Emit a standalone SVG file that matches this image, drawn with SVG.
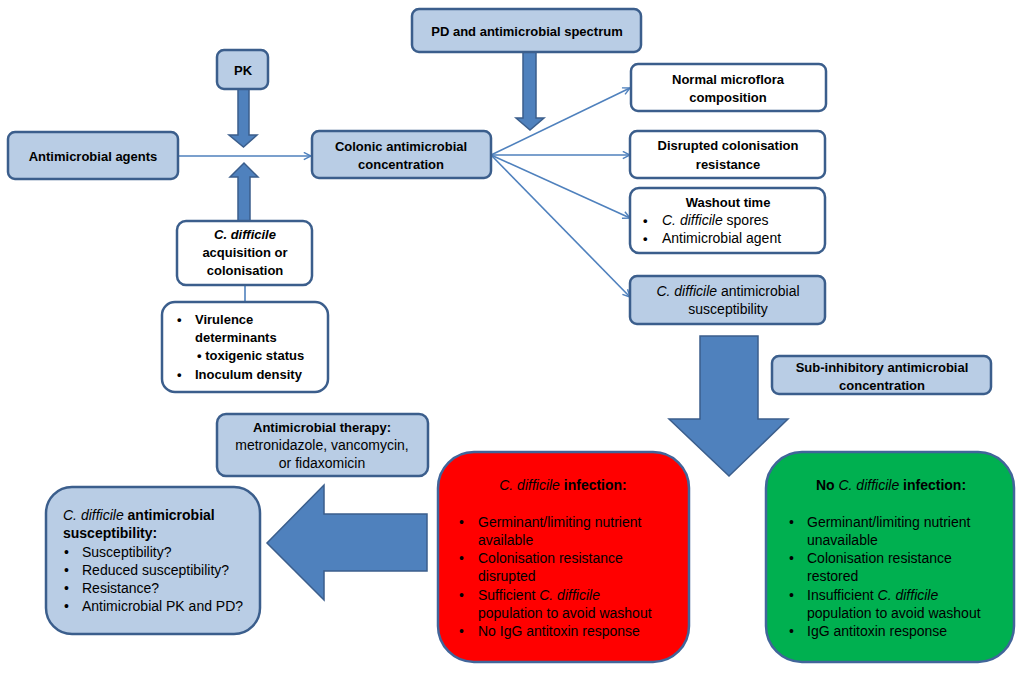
<svg xmlns="http://www.w3.org/2000/svg" width="1024" height="673" viewBox="0 0 1024 673">
<defs>
<style>
.lb{fill:#B9CDE5;stroke:#3B5E8C;stroke-width:2.5}
.wb{fill:#FFFFFF;stroke:#3B5E8C;stroke-width:2.5}
.red{fill:#FF0000;stroke:#41659A;stroke-width:2.5}
.grn{fill:#00B050;stroke:#41659A;stroke-width:2.5}
.blk{fill:#4F81BD;stroke:#3B5E8C;stroke-width:1.5;stroke-linejoin:miter}
.con{stroke:#4F81BD;stroke-width:1.6;fill:none}
text{font-family:"Liberation Sans",Arial,sans-serif;fill:#000}
.b{font-size:13px;font-weight:bold}
.r{font-size:14px}
.m{text-anchor:middle}
.i{font-style:italic}
</style>
<marker id="open" viewBox="0 0 10 10" refX="9" refY="5" markerWidth="9" markerHeight="9" markerUnits="userSpaceOnUse" orient="auto">
<path d="M1,1 L9,5 L1,9" fill="none" stroke="#4F81BD" stroke-width="1.6"/>
</marker>
</defs>

<g id="connectors">
<line class="con" x1="178" y1="156" x2="311" y2="156" marker-end="url(#open)"/>
<line class="con" x1="245" y1="285" x2="245" y2="302"/>
<line class="con" x1="491" y1="155" x2="630" y2="88" marker-end="url(#open)"/>
<line class="con" x1="491" y1="155" x2="630" y2="155" marker-end="url(#open)"/>
<line class="con" x1="491" y1="155" x2="630" y2="218" marker-end="url(#open)"/>
<line class="con" x1="491" y1="155" x2="630" y2="297" marker-end="url(#open)"/>
<polygon id="arrow-pk" class="blk" points="238,89 249,89 249,135 257,135 243.5,147 229,135 238,135"/>
<polygon id="arrow-cdiff" class="blk" points="238,221 250,221 250,177 258,177 244,163 230,177 238,177"/>
<polygon id="arrow-pd" class="blk" points="523,52 536,52 536,118 544,118 530,130 516,118 523,118"/>
<polygon id="arrow-sub" class="blk" points="700,336 758,336 758,419 788,419 729,476 669,419 700,419"/>
<polygon id="arrow-therapy" class="blk" points="427,514 427,571 324,571 324,600 267,543 324,485 324,514"/>
</g>

<g id="antimicrobial-agents">
<rect class="lb" x="8" y="132" width="170" height="47" rx="7"/>
<text class="b m" x="93" y="161">Antimicrobial agents</text>
</g>

<g id="pk">
<rect class="lb" x="217" y="50" width="51" height="39" rx="7"/>
<text class="b m" x="243" y="75">PK</text>
</g>

<g id="colonic">
<rect class="lb" x="312" y="131" width="179" height="47" rx="7"/>
<text class="b m" x="401" y="151">Colonic antimicrobial</text>
<text class="b m" x="401" y="169">concentration</text>
</g>

<g id="pd">
<rect class="lb" x="412" y="9" width="229" height="43" rx="7"/>
<text class="b m" x="527" y="36">PD and antimicrobial spectrum</text>
</g>

<g id="cdiff-acquisition">
<rect class="wb" x="177" y="221" width="135" height="64" rx="9"/>
<text class="b m" x="245" y="239"><tspan class="i">C. difficile</tspan></text>
<text class="b m" x="245" y="257">acquisition or</text>
<text class="b m" x="245" y="275">colonisation</text>
</g>

<g id="virulence">
<rect class="wb" x="162" y="302" width="166" height="90" rx="13"/>
<text class="b" x="177" y="324">•</text>
<text class="b" x="195" y="324">Virulence</text>
<text class="b" x="195" y="342">determinants</text>
<text class="b" x="197" y="360">• toxigenic status</text>
<text class="b" x="177" y="379">•</text>
<text class="b" x="195" y="379">Inoculum density</text>
</g>

<g id="normal-microflora">
<rect class="wb" x="631" y="64" width="195" height="47" rx="7"/>
<text class="b m" x="728" y="84">Normal microflora</text>
<text class="b m" x="728" y="102">composition</text>
</g>

<g id="disrupted">
<rect class="wb" x="630" y="131" width="195" height="47" rx="7"/>
<text class="b m" x="728" y="150">Disrupted colonisation</text>
<text class="b m" x="728" y="169">resistance</text>
</g>

<g id="washout">
<rect class="wb" x="630" y="188" width="195" height="65" rx="9"/>
<text class="b m" x="728" y="207">Washout time</text>
<text class="b" x="643" y="225">•</text>
<text class="r" x="662" y="225"><tspan class="i">C. difficile</tspan> spores</text>
<text class="b" x="643" y="243">•</text>
<text class="r" x="662" y="243">Antimicrobial agent</text>
</g>

<g id="cdiff-susceptibility">
<rect class="lb" x="630" y="276" width="195" height="48" rx="7"/>
<text class="r m" x="728" y="296"><tspan class="i">C. difficile</tspan> antimicrobial</text>
<text class="r m" x="728" y="314">susceptibility</text>
</g>

<g id="sub-inhibitory">
<rect class="lb" x="772" y="356" width="219" height="38" rx="7"/>
<text class="b m" x="882" y="372">Sub-inhibitory antimicrobial</text>
<text class="b m" x="882" y="390">concentration</text>
</g>

<g id="therapy">
<rect class="lb" x="217" y="414" width="211" height="62" rx="9"/>
<text class="b m" x="322" y="432">Antimicrobial therapy:</text>
<text class="r m" x="322" y="450">metronidazole, vancomycin,</text>
<text class="r m" x="322" y="468">or fidaxomicin</text>
</g>

<g id="susceptibility-questions">
<rect class="lb" x="46" y="487" width="214" height="147" rx="26"/>
<text x="63" y="520" style="font-size:14px"><tspan class="i">C. difficile</tspan> <tspan font-weight="bold">antimicrobial</tspan></text>
<text class="b" x="63" y="538" style="font-size:14px">susceptibility:</text>
<text class="r" x="64" y="557">•</text>
<text class="r" x="82" y="557">Susceptibility?</text>
<text class="r" x="64" y="575">•</text>
<text class="r" x="82" y="575">Reduced susceptibility?</text>
<text class="r" x="64" y="593">•</text>
<text class="r" x="82" y="593">Resistance?</text>
<text class="r" x="64" y="611">•</text>
<text class="r" x="82" y="611">Antimicrobial PK and PD?</text>
</g>

<g id="infection">
<rect class="red" x="438" y="452" width="251" height="210" rx="36"/>
<text class="m" x="563" y="490" style="font-size:14px"><tspan class="i">C. difficile</tspan> <tspan font-weight="bold">infection:</tspan></text>
<text class="r" x="459" y="527">•</text>
<text class="r" x="478" y="527">Germinant/limiting nutrient</text>
<text class="r" x="478" y="545">available</text>
<text class="r" x="459" y="563">•</text>
<text class="r" x="478" y="563">Colonisation resistance</text>
<text class="r" x="478" y="581">disrupted</text>
<text class="r" x="459" y="600">•</text>
<text class="r" x="478" y="600">Sufficient <tspan class="i">C. difficile</tspan></text>
<text class="r" x="478" y="618">population to avoid washout</text>
<text class="r" x="459" y="636">•</text>
<text class="r" x="478" y="636">No IgG antitoxin response</text>
</g>

<g id="no-infection">
<rect class="grn" x="766" y="452" width="248" height="210" rx="36"/>
<text class="m" x="891" y="490" style="font-size:14px"><tspan font-weight="bold">No </tspan><tspan class="i">C. difficile</tspan> <tspan font-weight="bold">infection:</tspan></text>
<text class="r" x="789" y="527">•</text>
<text class="r" x="807" y="527">Germinant/limiting nutrient</text>
<text class="r" x="807" y="545">unavailable</text>
<text class="r" x="789" y="563">•</text>
<text class="r" x="807" y="563">Colonisation resistance</text>
<text class="r" x="807" y="581">restored</text>
<text class="r" x="789" y="600">•</text>
<text class="r" x="807" y="600">Insufficient <tspan class="i">C. difficile</tspan></text>
<text class="r" x="807" y="618">population to avoid washout</text>
<text class="r" x="789" y="636">•</text>
<text class="r" x="807" y="636">IgG antitoxin response</text>
</g>
</svg>
